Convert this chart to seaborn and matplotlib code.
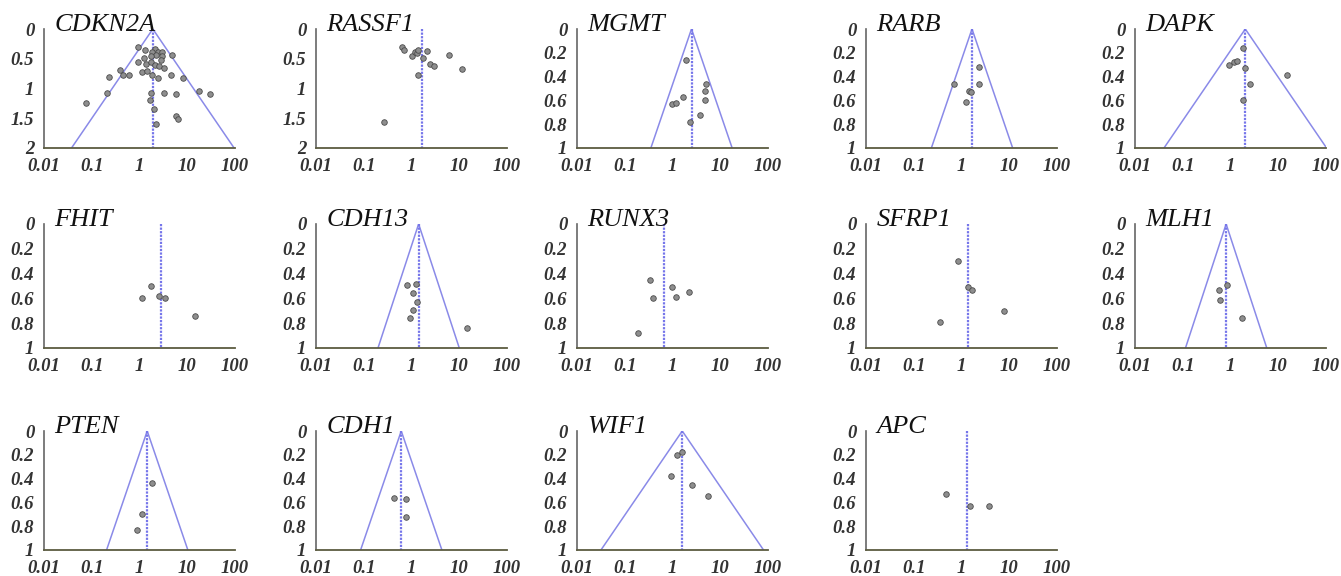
import numpy as np
import pandas as pd
import matplotlib
matplotlib.use('Agg')
import matplotlib.pyplot as plt
import seaborn as sns

# odds ratio (x) and standard error of log OR (y) for each study, per gene
cdkn2a_or = [0.93, 1.28, 2.1, 2.4, 2.9, 1.86, 2.2, 3.0, 4.9, 2.8, 0.93, 1.34, 1.74, 2.1,
             2.6, 3.3, 0.39, 0.23, 0.45, 0.59, 1.14, 1.46, 1.86, 2.4, 4.6, 8.1, 0.21,
             0.077, 1.77, 3.2, 5.8, 17.7, 30, 1.66, 2.0, 5.8, 6.3, 2.2, 1.77, 1.24]
cdkn2a_se = [0.31, 0.36, 0.34, 0.38, 0.39, 0.38, 0.44, 0.46, 0.44, 0.52, 0.55, 0.58, 0.56, 0.60,
             0.63, 0.66, 0.69, 0.80, 0.77, 0.78, 0.73, 0.70, 0.77, 0.83, 0.78, 0.83, 1.08,
             1.25, 1.08, 1.08, 1.09, 1.05, 1.09, 1.19, 1.35, 1.47, 1.51, 1.60, 0.45, 0.49]
rassf1_or = [0.62, 0.69, 1.03, 1.21, 1.32, 1.40, 2.07, 1.71, 1.38, 2.44, 2.96, 6.0, 11.4, 0.27]
rassf1_se = [0.31, 0.36, 0.45, 0.39, 0.40, 0.36, 0.37, 0.49, 0.78, 0.59, 0.63, 0.44, 0.67, 1.56]
mgmt_or = [1.9, 5.0, 4.8, 4.85, 1.67, 0.97, 1.2, 3.8, 2.3]
mgmt_se = [0.26, 0.46, 0.52, 0.60, 0.575, 0.63, 0.62, 0.72, 0.78]
rarb_or = [2.28, 2.28, 0.70, 1.41, 1.58, 1.24]
rarb_se = [0.32, 0.46, 0.46, 0.52, 0.53, 0.61]
dapk_or = [1.83, 0.94, 1.17, 1.37, 1.98, 2.6, 1.83, 15]
dapk_se = [0.16, 0.30, 0.28, 0.27, 0.33, 0.46, 0.60, 0.39]
fhit_or = [1.12, 1.74, 2.59, 3.4, 14.6]
fhit_se = [0.60, 0.50, 0.58, 0.60, 0.74]
cdh13_or = [0.80, 1.26, 1.10, 1.30, 1.08, 0.94, 14.3]
cdh13_se = [0.49, 0.48, 0.56, 0.63, 0.69, 0.76, 0.84]
runx3_or = [0.34, 0.39, 0.19, 0.97, 1.18, 2.18]
runx3_se = [0.45, 0.60, 0.88, 0.51, 0.59, 0.55]
sfrp1_or = [0.85, 1.34, 1.63, 0.36, 7.7]
sfrp1_se = [0.30, 0.51, 0.53, 0.79, 0.70]
mlh1_or = [0.85, 0.57, 0.60, 1.76]
mlh1_se = [0.49, 0.53, 0.61, 0.76]
pten_or = [1.82, 1.12, 0.89]
pten_se = [0.44, 0.70, 0.83]
cdh1_or = [0.44, 0.76, 0.76]
cdh1_se = [0.56, 0.57, 0.72]
wif1_or = [1.25, 1.61, 0.95, 2.6, 5.6]
wif1_se = [0.20, 0.18, 0.38, 0.45, 0.55]
apc_or = [0.48, 1.50, 3.7]
apc_se = [0.53, 0.63, 0.63]

genes = ["CDKN2A", "RASSF1", "MGMT", "RARB", "DAPK",
         "FHIT", "CDH13", "RUNX3", "SFRP1", "MLH1",
         "PTEN", "CDH1", "WIF1", "APC"]
study_or = [cdkn2a_or, rassf1_or, mgmt_or, rarb_or, dapk_or, fhit_or, cdh13_or,
            runx3_or, sfrp1_or, mlh1_or, pten_or, cdh1_or, wif1_or, apc_or]
study_se = [cdkn2a_se, rassf1_se, mgmt_se, rarb_se, dapk_se, fhit_se, cdh13_se,
            runx3_se, sfrp1_se, mlh1_se, pten_se, cdh1_se, wif1_se, apc_se]
pooled_or = [1.9, 1.68, 2.5, 1.66, 2.04, 2.8, 1.41, 0.67, 1.34, 0.81, 1.45, 0.61, 1.6, 1.32]
# SE the funnel limits are drawn for (None = no funnel drawn)
funnel_se = [2, None, 1, 1, 2, None, 1, None, None, 1, 1, 1, 2, None]
y_max = [2, 2, 1, 1, 1, 1, 1, 1, 1, 1, 1, 1, 1, 1]

x_ticks = [0.01, 0.1, 1, 10, 100]
x_ticklabels = ["0.01", "0.1", "1", "10", "100"]

sns.set_theme(style="white")
plt.rcParams['font.family'] = ['Liberation Serif', 'DejaVu Serif']

W, H = 1341, 576
fig = plt.figure(figsize=(W / 100, H / 100), dpi=100)

col_left = [44, 316, 577, 866, 1135]
col_width = 191
row_top = [29, 224, 431]
row_bottom = [148, 348, 550]

funnel_color = "#8a8ae8"
tick_font = dict(family=['Liberation Serif', 'DejaVu Serif'], style='italic',
                 weight='bold', size=13.5)

for i, gene in enumerate(genes):
    r, c = divmod(i, 5)
    left = col_left[c] / W
    bottom = 1 - row_bottom[r] / H
    height = (row_bottom[r] - row_top[r]) / H
    ax = fig.add_axes([left, bottom, col_width / W, height])

    df = pd.DataFrame({"odds_ratio": study_or[i], "se": study_se[i]})
    ymax = y_max[i]
    pooled = pooled_or[i]

    if funnel_se[i] is not None:
        half = np.exp(1.96 * funnel_se[i])
        ax.plot([pooled / half, pooled, pooled * half], [ymax, 0, ymax],
                color=funnel_color, lw=1.1, zorder=1)
    ax.plot([pooled, pooled], [0, ymax], color="#7676ea", lw=1.6,
            linestyle=(0, (1, 0.6)), zorder=1)

    sns.scatterplot(data=df, x="odds_ratio", y="se", ax=ax, s=16,
                    color="#8e8e8e", edgecolor="#4a4a4a", linewidth=0.6, zorder=3)

    ax.set_xscale("log")
    ax.set_xlim(0.01, 100)
    ax.set_ylim(ymax, 0)
    ax.set_xticks(x_ticks)
    ax.set_xticklabels(x_ticklabels, **tick_font)
    ax.minorticks_off()
    if ymax == 2:
        yt = [0, 0.5, 1, 1.5, 2]
        ytl = ["0", "0.5", "1", "1.5", "2"]
    else:
        yt = [0, 0.2, 0.4, 0.6, 0.8, 1]
        ytl = ["0", "0.2", "0.4", "0.6", "0.8", "1"]
    ax.set_yticks(yt)
    ax.set_yticklabels(ytl, **tick_font)
    ax.set_xlabel("")
    ax.set_ylabel("")
    ax.tick_params(axis="both", which="major", length=2, width=1.2,
                   color="#444444", direction="inout", labelcolor="#333333")
    ax.tick_params(axis="x", pad=6)
    ax.tick_params(axis="y", pad=6)

    for side in ["top", "right"]:
        ax.spines[side].set_visible(False)
    ax.spines["left"].set_color("#666666")
    ax.spines["left"].set_linewidth(1.2)
    ax.spines["bottom"].set_color("#5c5c40")
    ax.spines["bottom"].set_linewidth(1.3)
    ax.patch.set_alpha(0)

    ax.text(0.055, 0.985, gene, transform=ax.transAxes, ha="left", va="baseline",
            fontsize=19, style="italic", color="#111111",
            family=['Liberation Serif', 'DejaVu Serif'])

fig.savefig("out.png", dpi=100)
